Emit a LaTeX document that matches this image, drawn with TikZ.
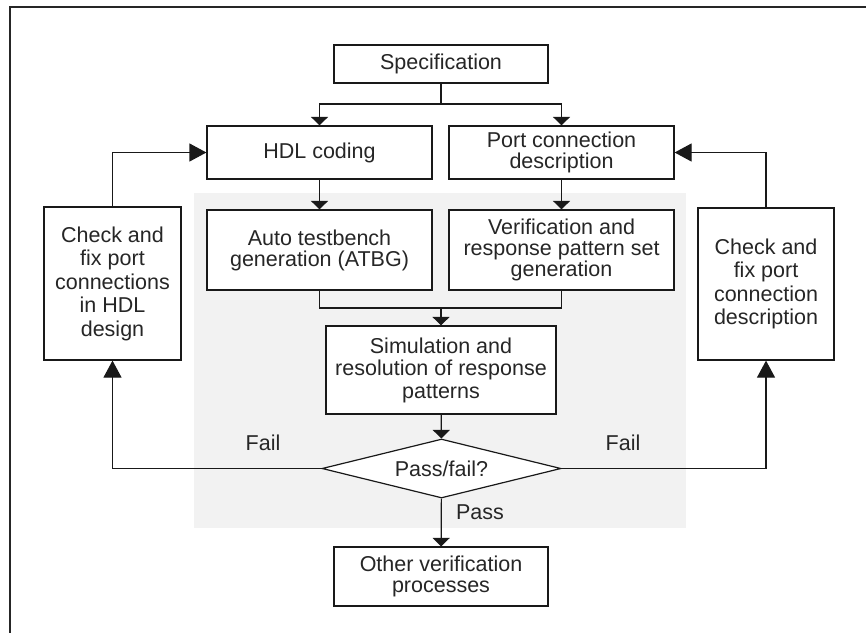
\documentclass[tikz,border=0pt]{standalone}
\usepackage{fontspec}
\setmainfont{Liberation Sans}
\usetikzlibrary{arrows.meta,shapes.geometric}

\tikzset{
  base/.style={draw=black!90, line width=1.2pt, fill=white, align=center,
    inner sep=0pt, text=black!85, font=\fontsize{21.5}{21}\selectfont},
  box/.style={base, rectangle},
  sidebox/.style={base, rectangle, font=\fontsize{21.5}{23.5}\selectfont},
  decision/.style={base, diamond, aspect=4.05},
  conn/.style={draw=black!90, line width=1.2pt},
  flat/.style={conn, -{Triangle[length=8.5pt,width=17pt]}},
  big/.style={conn, -{Triangle[length=17pt,width=18pt]}},
  lbl/.style={text=black!85, font=\fontsize{21.5}{21}\selectfont, inner sep=0pt}
}

\begin{document}
\begin{tikzpicture}[x=1pt, y=-1pt]
  \useasboundingbox (0,0) rectangle (866,633);

  % open frame: top and left edges
  \draw[line width=1.2pt, black!85] (866,7) -- (10,7) -- (10,633);

  % shaded verification area
  \fill[black!5] (194,193) rectangle (686,528);

  % process boxes
  \node[box, minimum width=214pt, minimum height=38pt] (spec) at (441,64) {Specification};
  \node[box, minimum width=225pt, minimum height=53pt] (hdl) at (319.5,152.5) {HDL coding};
  \node[box, minimum width=225pt, minimum height=53pt] (port) at (561.5,152.5) {Port connection\\description};
  \node[box, minimum width=225pt, minimum height=80pt] (atbg) at (319.5,250) {Auto testbench\\generation (ATBG)};
  \node[box, minimum width=225pt, minimum height=80pt] (verif) at (561.5,250) {Verification and\\response pattern set\\generation};
  \node[box, minimum width=230pt, minimum height=88pt, font=\fontsize{21.5}{22.5}\selectfont] (sim) at (441,370) {Simulation and\\resolution of response\\patterns};
  \node[decision, minimum width=239pt, minimum height=59pt] (dec) at (441.5,468.5) {Pass/fail?};
  \node[box, minimum width=214pt, minimum height=59pt] (other) at (441,576.5) {Other verification\\processes};
  \node[sidebox, minimum width=137pt, minimum height=153pt] (lbox) at (112.5,283.5) {Check and\\fix port\\connections\\in HDL\\design};
  \node[sidebox, minimum width=136pt, minimum height=152pt] (rbox) at (766,284) {Check and\\fix port\\connection\\description};

  % branch and join points
  \coordinate (fork) at (441,104);
  \coordinate (join) at (441,308);

  % main flow
  \draw[conn] (spec) -- (fork);
  \draw[flat] (fork) -| (hdl);
  \draw[flat] (fork) -| (port);
  \draw[flat] (hdl) -- (atbg);
  \draw[flat] (port) -- (verif);
  \draw[conn] (atbg) |- (join) -| (verif);
  \draw[flat] (join) -- (sim);
  \draw[flat] (sim) -- (dec);
  \draw[flat] (dec) -- (other);

  % failure loops
  \draw[big] (dec.west) -| (lbox);
  \draw[big] (dec.east) -| (rbox);
  \draw[big] (lbox) |- (hdl);
  \draw[big] (rbox) |- (port);

  % branch labels
  \node[lbl] (failL) at (263,443) {Fail};
  \node[lbl] (failR) at (623,443) {Fail};
  \node[lbl] (pass) at (480,512) {Pass};
\end{tikzpicture}
\end{document}
